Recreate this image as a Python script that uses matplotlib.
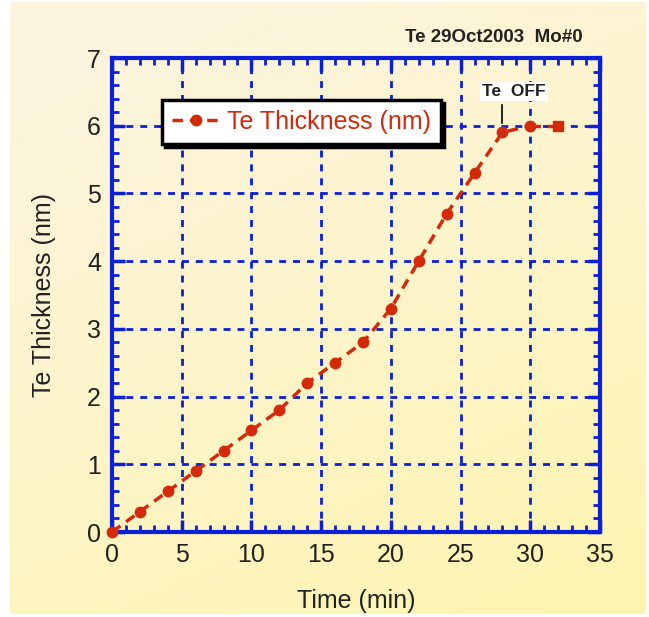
import numpy as np
import matplotlib
matplotlib.use("Agg")
import matplotlib.pyplot as plt
from matplotlib.ticker import MultipleLocator
from matplotlib.colors import LinearSegmentedColormap

plt.rcParams['font.family'] = ['Liberation Sans', 'DejaVu Sans']

time_min = [0, 2, 4, 6, 8, 10, 12, 14, 16, 18, 20, 22, 24, 26, 28, 30, 32]
thickness_nm = [0, 0.3, 0.6, 0.9, 1.2, 1.5, 1.8, 2.2, 2.5, 2.8, 3.3, 4.0, 4.7, 5.3, 5.9, 6.0, 6.0]
x_ticks = [0, 5, 10, 15, 20, 25, 30, 35]
y_ticks = [0, 1, 2, 3, 4, 5, 6, 7]

W, H = 649, 617
fig = plt.figure(figsize=(W/100, H/100), dpi=100)

# background gradient panel
bg = fig.add_axes([10/W, 3/H, 636/W, 612/H], zorder=0)
yy, xx = np.mgrid[0:1:200j, 0:1:200j]
grad = np.clip(0.75*yy + 0.35*xx - 0.1, 0, 1)
cmap = LinearSegmentedColormap.from_list('bgc', ['#FCF4DE', '#FDF4C8', '#FEF4B0'])
bg.imshow(grad, cmap=cmap, aspect='auto', extent=[0, 1, 1, 0])
bg.axis('off')

blue = '#0A1FD8'
red = '#D42A0A'
ax = fig.add_axes([112/W, 1 - 532/H, 488/W, 474/H], zorder=1)
ax.set_facecolor('none')
ax.set_xlim(0, 35)
ax.set_ylim(0, 7)
ax.set_xticks(x_ticks)
ax.set_yticks(y_ticks)
ax.xaxis.set_minor_locator(MultipleLocator(1))
ax.yaxis.set_minor_locator(MultipleLocator(0.2))
for s in ax.spines.values():
    s.set_color(blue)
    s.set_linewidth(3)
ax.tick_params(which='both', direction='in', top=True, right=True, color=blue,
               labelsize=18, labelcolor='#222222', pad=8)
ax.tick_params(which='major', length=9, width=2.5)
ax.tick_params(which='minor', length=5, width=2)
ax.grid(True, which='major', color=blue, linestyle=(0, (2.5, 2.5)), linewidth=2)

line, = ax.plot(time_min[:-1], thickness_nm[:-1], linestyle=(0, (3, 2)), color=red,
                linewidth=2.5, marker='o', markersize=7.5, zorder=5, clip_on=False)
ax.plot(time_min[-2:], thickness_nm[-2:], linestyle=(0, (3, 2)), color=red,
        linewidth=2.5, zorder=5)
ax.plot(time_min[-1:], thickness_nm[-1:], linestyle='none', color=red,
        marker='s', markersize=7.5, zorder=5)

ax.set_xlabel('Time (min)', fontsize=18, color='#222222', labelpad=16)
ax.set_ylabel('Te Thickness (nm)', fontsize=18, color='#222222', labelpad=22)

leg = ax.legend([line], ['Te Thickness (nm)'], loc='upper left',
                bbox_to_anchor=(50/488, 1 - 42/474), fancybox=False,
                shadow={'color': 'black', 'alpha': 1}, framealpha=1,
                edgecolor='black', fontsize=18, handlelength=1.9,
                borderpad=0.4, handletextpad=0.3, borderaxespad=0)
leg.get_frame().set_linewidth(2.5)
for t in leg.get_texts():
    t.set_color(red)

# annotation Te OFF
ax.plot([28, 28], [6.04, 6.31], color='black', linewidth=1.2, zorder=6)
ax.text(28.83, 6.4, 'Te  OFF', fontsize=12.5, fontweight='bold', color='#222222',
        ha='center', va='bottom', zorder=6,
        bbox=dict(facecolor='white', edgecolor='none', pad=1.5))

fig.text(583/W, 1 - 38/H, 'Te 29Oct2003  Mo#0', fontsize=13.5, fontweight='bold',
         color='#222222', ha='right', va='center')

fig.savefig('out.png', dpi=100)
